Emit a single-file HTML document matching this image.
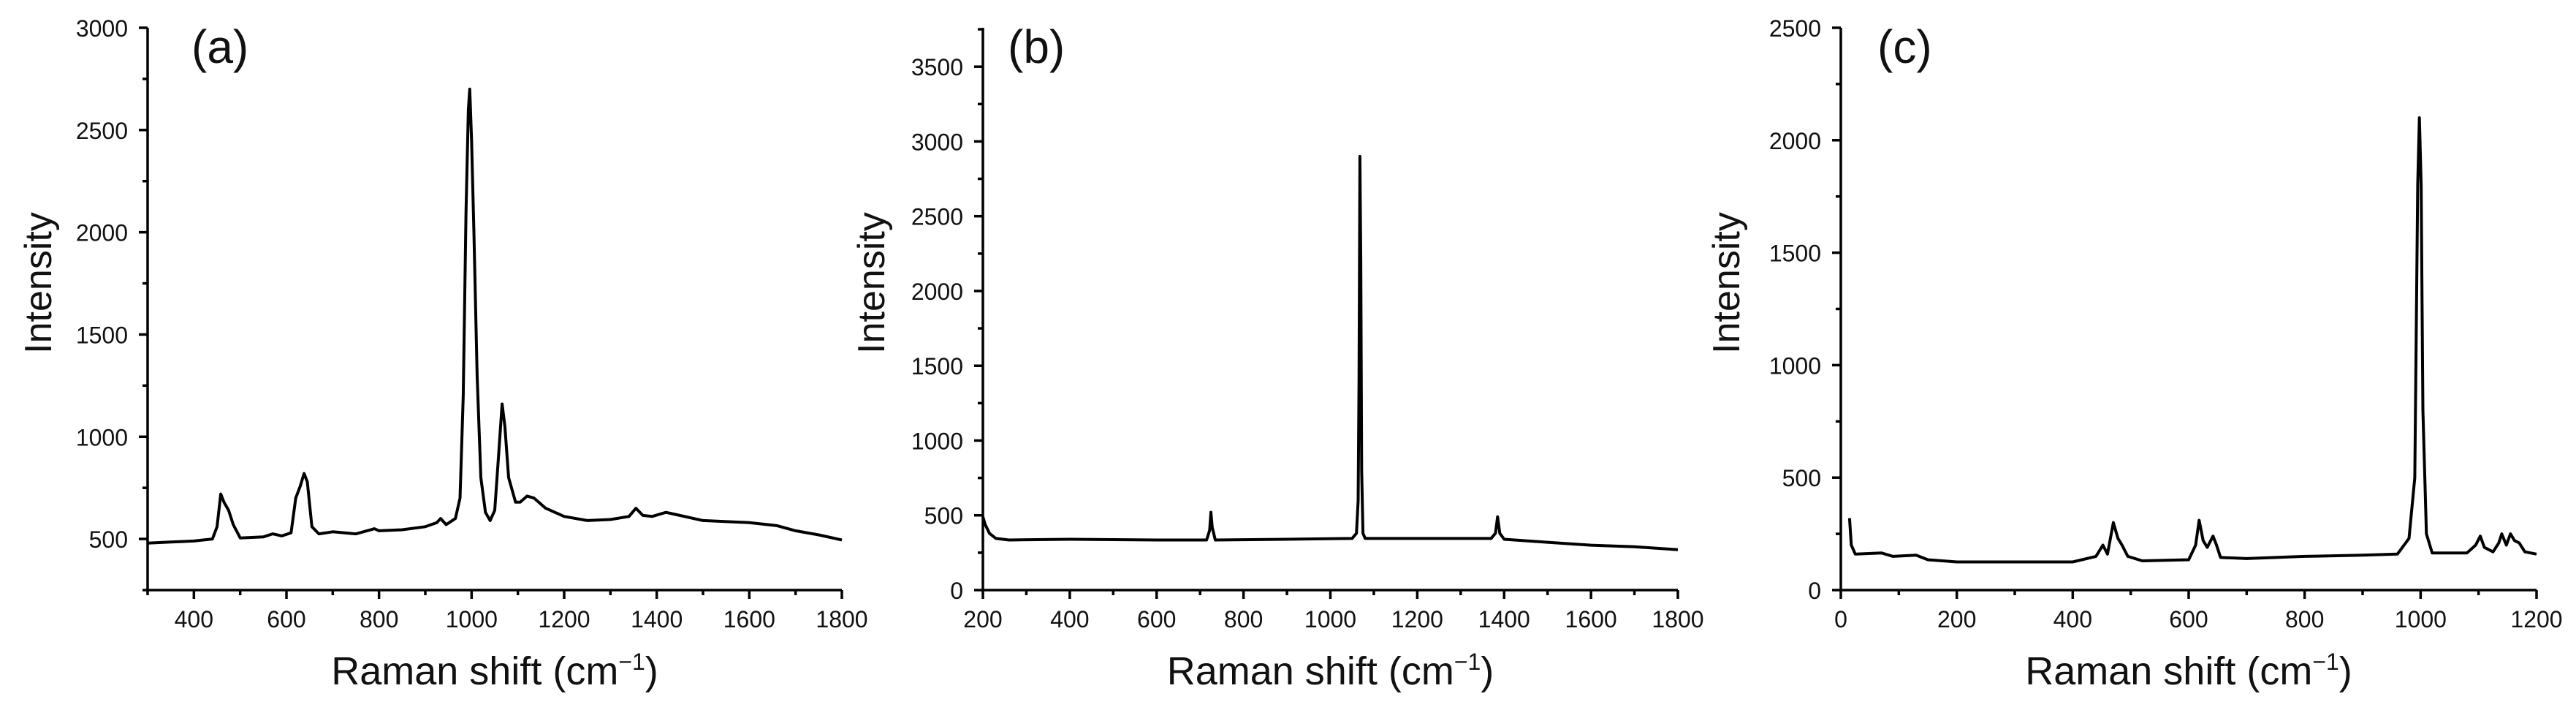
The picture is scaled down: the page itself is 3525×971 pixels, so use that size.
<!DOCTYPE html>
<html><head><meta charset="utf-8"><style>
html,body{margin:0;padding:0;background:#fff;}
svg{display:block;font-family:"Liberation Sans",Arial,sans-serif;}
</style></head><body>
<svg id="fig" width="3525" height="971" viewBox="0 0 3525 971"></svg>
<script>
// ---- Panel (a) data ----
const aX = [300,350,400,440,450,458,465,475,485,500,550,570,590,610,620,630,638,645,655,670,700,750,790,800,850,900,925,933,945,965,975,982,988,993,996,1000,1005,1012,1020,1030,1040,1050,1058,1066,1072,1080,1095,1105,1120,1135,1160,1200,1250,1300,1340,1355,1370,1390,1420,1440,1500,1600,1660,1700,1750,1800];
const aY = [480,485,490,500,560,720,680,640,570,505,510,525,515,530,700,760,820,780,560,525,535,525,550,540,545,560,580,600,570,600,700,1200,2100,2600,2700,2450,2000,1300,800,630,590,640,900,1160,1050,800,680,680,710,700,650,610,590,595,610,650,615,610,630,620,590,580,565,540,520,495];
const aXTicks = [400,600,800,1000,1200,1400,1600,1800];
const aYTicks = [500,1000,1500,2000,2500,3000];
// ---- Panel (b) data ----
const bX = [200,205,215,230,260,400,600,715,722,725,728,735,900,1050,1060,1064,1066,1068,1070,1072,1075,1080,1200,1370,1380,1385,1390,1400,1500,1600,1700,1800];
const bY = [490,440,380,345,335,340,335,335,400,520,420,335,340,345,380,600,1400,2900,2200,800,380,345,345,345,380,490,380,340,320,300,290,270];
const bXTicks = [200,400,600,800,1000,1200,1400,1600,1800];
const bYTicks = [0,500,1000,1500,2000,2500,3000,3500];
// ---- Panel (c) data ----
const cX = [15,18,25,70,90,130,150,200,300,400,440,452,460,470,478,485,495,520,600,612,618,625,632,642,648,655,700,800,900,960,980,990,995,998,1001,1004,1010,1020,1080,1095,1103,1110,1125,1135,1140,1148,1155,1162,1170,1180,1200];
const cY = [320,200,160,165,150,155,135,125,125,125,150,200,160,300,230,200,150,130,135,200,310,220,190,240,200,145,140,150,155,160,230,500,1800,2100,1800,800,250,165,165,200,240,190,170,210,250,200,250,220,210,170,160];
const cXTicks = [0,200,400,600,800,1000,1200];
const cYTicks = [0,500,1000,1500,2000,2500];

const NS = "http://www.w3.org/2000/svg";
const svg = document.getElementById('fig');
function mk(tag, attrs, parent){const e=document.createElementNS(NS,tag);for(const k in attrs)e.setAttribute(k,attrs[k]);(parent||svg).appendChild(e);return e;}

function panel(id, label, px0, px1, py0, py1, xmin, xmax, ymin, ymax, xt, xminor, yt, yminor, xs, ys, titleX, labelX){
  const g = mk('g',{});
  
  
  const sx = v => px0 + (v - xmin) / (xmax - xmin) * (px1 - px0);
  const sy = v => py1 - (v - ymin) / (ymax - ymin) * (py1 - py0);
  const ax = mk('path',{d:`M${px0},${py0} L${px0},${py1} L${px1},${py1}`,fill:'none',stroke:'#000','stroke-width':3.5},g);
  
  
  for(let v=Math.ceil(xmin/xminor)*xminor; v<=xmax+0.01; v+=xminor){
    const major = xt.includes(v);
    const t = mk('line',{x1:sx(v),x2:sx(v),y1:py1,y2:py1+(major?12:7),stroke:'#000','stroke-width':3.5},g);
    
    
  }
  xt.forEach(v=>{
    const t = mk('text',{x:sx(v),y:858,'font-size':32,'text-anchor':'middle',fill:'#111'},g);
    t.textContent = v;
    
    
  });
  for(let v=Math.ceil(ymin/yminor)*yminor; v<=ymax+0.01; v+=yminor){
    const major = yt.includes(v);
    const t = mk('line',{x1:px0-(major?12:7),x2:px0,y1:sy(v),y2:sy(v),stroke:'#000','stroke-width':3.5},g);
    
    
  }
  yt.forEach(v=>{
    const t = mk('text',{x:px0-27,y:sy(v)+12,'font-size':32,'text-anchor':'end',fill:'#111'},g);
    t.textContent = v;
    
    
  });
  let d='';
  xs.forEach((x,i)=>{d += (i?' L':'M') + sx(x).toFixed(1) + ',' + sy(ys[i]).toFixed(1);});
  const line = mk('path',{d:d,fill:'none',stroke:'#000','stroke-width':4,'stroke-linejoin':'round'},g);
  
  
  const xtitle = mk('text',{x:(px0+px1)/2,y:936,'font-size':54,'text-anchor':'middle',fill:'#111'},g);
  xtitle.innerHTML = 'Raman shift (cm<tspan dy="-20" font-size="32">−1</tspan><tspan dy="20">)</tspan>';
  
  
  const ytitle = mk('text',{x:0,y:0,'font-size':52,'text-anchor':'middle',fill:'#111',transform:`translate(${titleX+18},387) rotate(-90)`},g);
  ytitle.textContent = 'Intensity';
  
  
  const lab = mk('text',{x:labelX,y:86,'font-size':64,fill:'#111'},g);
  lab.textContent = label;
  
  
}
panel('a','(a)',202,1152,38,807,300,1800,250,3000,aXTicks,100,aYTicks,250,aX,aY,52,262);
panel('b','(b)',1345,2296,38,807,200,1800,0,3760,bXTicks,100,bYTicks,250,bX,bY,1192,1379);
panel('c','(c)',2519,3471,38,807,0,1200,0,2500,cXTicks,100,cYTicks,250,cX,cY,2362,2569);
</script>
</body></html>
